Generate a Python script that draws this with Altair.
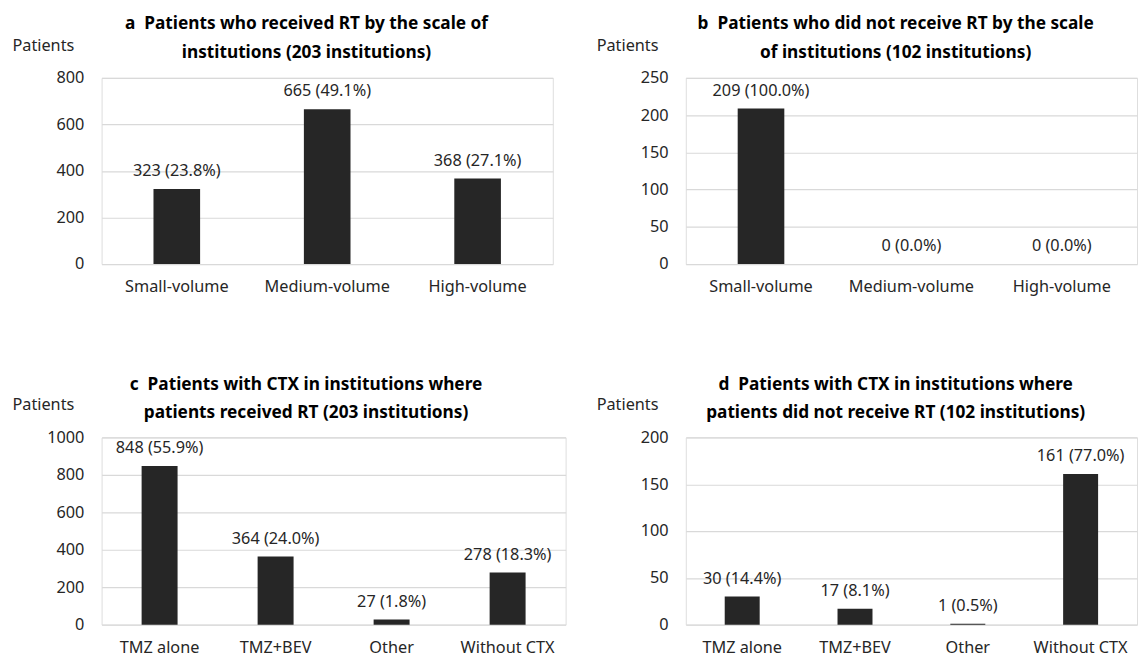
import altair as alt
import pandas as pd

# ---- data ----
cats_ab = ["Small-volume", "Medium-volume", "High-volume"]
a_vals = [323, 665, 368]
a_pct = ["23.8%", "49.1%", "27.1%"]
b_vals = [209, 0, 0]
b_pct = ["100.0%", "0.0%", "0.0%"]

cats_cd = ["TMZ alone", "TMZ+BEV", "Other", "Without CTX"]
c_vals = [848, 364, 27, 278]
c_pct = ["55.9%", "24.0%", "1.8%", "18.3%"]
d_vals = [30, 17, 1, 161]
d_pct = ["14.4%", "8.1%", "0.5%", "77.0%"]

title_a = ["a\u00a0\u00a0Patients who received RT by the scale of", "institutions (203 institutions)"]
title_b = ["b\u00a0\u00a0Patients who did not receive RT by the scale", "of institutions (102 institutions)"]
title_c = ["c\u00a0\u00a0Patients with CTX in institutions where", "patients received RT (203 institutions)"]
title_d = ["d\u00a0\u00a0Patients with CTX in institutions where", "patients did not receive RT (102 institutions)"]

y_a = [0, 200, 400, 600, 800]
y_b = [0, 50, 100, 150, 200, 250]
y_c = [0, 200, 400, 600, 800, 1000]
y_d = [0, 50, 100, 150, 200]

LABEL_FONT = "Noto Sans"
TITLE_FONT = "Noto Sans"
INK = "#262626"
FS = 16.5


def panel(cats, vals, pcts, title_lines, yticks, width, height, dx, toff):
    df = pd.DataFrame({"cat": cats, "val": vals, "pct": pcts})
    df["label"] = df["val"].astype(str) + " (" + df["pct"] + ")"
    x = alt.X(
        "cat:N", sort=cats, title=None,
        scale=alt.Scale(paddingInner=0.69, paddingOuter=0.345),
        axis=alt.Axis(labelAngle=0, domain=False, ticks=False, labelPadding=15,
                      labelFontSize=FS, labelColor=INK, labelFont=LABEL_FONT, grid=False),
    )
    y = alt.Y(
        "val:Q", title="Patients",
        scale=alt.Scale(domain=[yticks[0], yticks[-1]], nice=False),
        axis=alt.Axis(values=yticks, format="d", domain=False, ticks=False, tickSize=0,
                      labelPadding=18, labelFontSize=FS, labelColor=INK, labelFont=LABEL_FONT,
                      grid=True, gridColor="#d9d9d9", gridWidth=1.2,
                      titleAngle=0, titleX=-91, titleY=-33, titleAlign="left",
                      titleBaseline="middle", titleFontWeight="normal", titleFontSize=FS,
                      titleFont=LABEL_FONT, titleColor=INK),
    )
    base = alt.Chart(df)
    bars = base.mark_bar(color=INK).encode(x=x, y=y)
    text = base.mark_text(baseline="alphabetic", dy=-13, fontSize=FS, color=INK,
                          font=LABEL_FONT).encode(x=x, y=y, text="label:N")
    return alt.layer(bars, text).properties(
        width=width, height=height,
        title=alt.Title(text=title_lines, anchor="middle", frame="group", dx=dx,
                        fontSize=17.5, fontWeight="bold", lineHeight=29, offset=toff,
                        font=TITLE_FONT, color="#000000"),
    )


pa = panel(cats_ab, a_vals, a_pct, title_a, y_a, 458, 189, -21, -24)
pb = panel(cats_ab, b_vals, b_pct, title_b, y_b, 458, 189, -16, -24)
pc = panel(cats_cd, c_vals, c_pct, title_c, y_c, 471, 190, -28, -25)
pd_ = panel(cats_cd, d_vals, d_pct, title_d, y_d, 458, 190, -16, -25)

chart = alt.concat(pa, pb, pc, pd_, columns=2, spacing={"row": 176, "column": 122},
                   bounds="flush").properties(
    padding={"left": 3, "top": 2, "right": 0, "bottom": 0}
).configure_view(stroke=None).configure(background="white")

chart.save("out.html", embed_options={"renderer": "svg", "actions": False})
